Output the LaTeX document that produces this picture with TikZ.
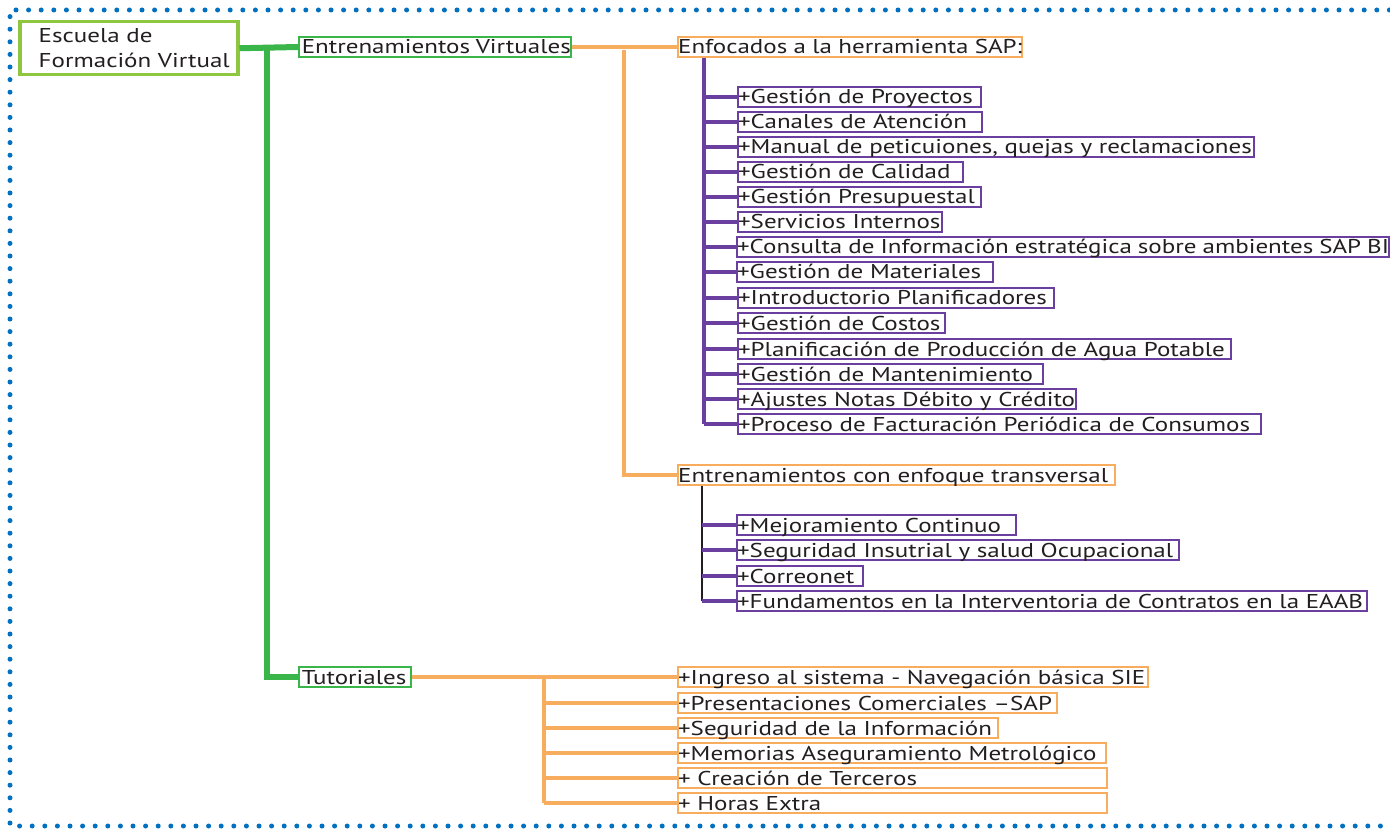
\documentclass[tikz,border=0pt]{standalone}
\usepackage{fontspec}
\setmainfont{PT Sans}[FakeStretch=1.25]
\definecolor{dotblue}{HTML}{0070C0}
\definecolor{rootgreen}{HTML}{8DC63F}
\definecolor{grn}{HTML}{39B54A}
\definecolor{orng}{HTML}{F8AD5E}
\definecolor{purp}{HTML}{6B3FA0}
\definecolor{txt}{HTML}{231F20}
\newcommand\boxtext[2]{\hbox to #1{#2\hfil}}
\begin{document}
\begin{tikzpicture}[x=1pt,y=-1pt,
  font=\fontsize{20}{23}\selectfont,
  ibox/.style={draw, inner sep=0pt, minimum height=20pt, anchor=west, text=txt,
    text height=16pt, text depth=2pt},
  pbox/.style={ibox, draw=purp, line width=2.2pt},
  obox/.style={ibox, draw=orng, line width=2.2pt},
  gbox/.style={ibox, draw=grn, line width=1.6pt},
  gline/.style={grn, line width=6pt},
  oline/.style={orng, line width=3.5pt},
  pline/.style={purp, line width=4pt},
  dline/.style={txt, line width=1.6pt}]
\useasboundingbox (0,0) rectangle (1390,829);
\fill[white] (0,0) rectangle (1390,829);
\draw[dotblue, line width=5pt, line cap=round, dash pattern=on 0pt off 12.6pt]
  (1402,10) -- (10,10) -- (10,826) -- (1402,826);
% root
\node[draw=rootgreen, line width=3.5pt, inner sep=0pt, minimum height=53pt, anchor=north west, text=txt]
  (root) at (18,20) {\hbox to 218pt{\hspace{19pt}\vbox{\baselineskip=25pt\hbox{Escuela de}\hbox{Formación Virtual}}\hss}};
% level 1
\node[gbox] (ev) at (298,47) {\boxtext{272pt}{\hspace{3pt}Entrenamientos Virtuales}};
\node[gbox] (tut) at (298,677) {\boxtext{112pt}{\hspace{3pt}Tutoriales}};
% level 2
\node[obox] (enf) at (677,47) {\boxtext{344pt}{Enfocados a la herramienta SAP:}};
\node[obox] (tra) at (677,475) {\boxtext{437pt}{Entrenamientos con enfoque transversal}};
% SAP items
\node[pbox] (p1) at (737,97) {\boxtext{243pt}{+Gestión de Proyectos}};
\node[pbox] (p2) at (737,122) {\boxtext{244pt}{+Canales de Atención}};
\node[pbox] (p3) at (737,147) {\boxtext{516pt}{+Manual de peticuiones, quejas y reclamaciones}};
\node[pbox] (p4) at (737,172) {\boxtext{225pt}{+Gestión de Calidad}};
\node[pbox] (p5) at (737,197) {\boxtext{243pt}{+Gestión Presupuestal}};
\node[pbox] (p6) at (737,222) {\boxtext{204pt}{+Servicios Internos}};
\node[pbox] (p7) at (736,247) {\boxtext{652pt}{+Consulta de Información estratégica sobre ambientes SAP BI}};
\node[pbox] (p8) at (736,272) {\boxtext{256pt}{+Gestión de Materiales}};
\node[pbox] (p9) at (737,298) {\boxtext{316pt}{+Introductorio Planificadores}};
\node[pbox] (p10) at (737,323) {\boxtext{207pt}{+Gestión de Costos}};
\node[pbox] (p11) at (737,349) {\boxtext{493pt}{+Planificación de Producción de Agua Potable}};
\node[pbox] (p12) at (737,374) {\boxtext{305pt}{+Gestión de Mantenimiento}};
\node[pbox] (p13) at (737,399) {\boxtext{338pt}{+Ajustes Notas Débito y Crédito}};
\node[pbox] (p14) at (737,424) {\boxtext{523pt}{+Proceso de Facturación Periódica de Consumos}};
% transversal items
\node[pbox] (t1) at (736,525) {\boxtext{279pt}{+Mejoramiento Continuo}};
\node[pbox] (t2) at (736,550) {\boxtext{442pt}{+Seguridad Insutrial y salud Ocupacional}};
\node[pbox] (t3) at (736,576) {\boxtext{126pt}{+Correonet}};
\node[pbox] (t4) at (736,601) {\boxtext{630pt}{+Fundamentos en la Interventoria de Contratos en la EAAB}};
% tutorial items
\node[obox] (u1) at (677,677) {\boxtext{470pt}{+Ingreso al sistema - Navegación básica SIE}};
\node[obox] (u2) at (677,703) {\boxtext{379pt}{+Presentaciones Comerciales –SAP}};
\node[obox] (u3) at (677,728) {\boxtext{320pt}{+Seguridad de la Información}};
\node[obox] (u4) at (677,753) {\boxtext{428pt}{+Memorias Aseguramiento Metrológico}};
\node[obox] (u5) at (677,778) {\boxtext{429pt}{+ Creación de Terceros}};
\node[obox] (u6) at (677,803) {\boxtext{429pt}{+ Horas Extra}};
% trunk coordinates
\coordinate (gt) at (267,0);
\coordinate (ot) at (624,0);
\coordinate (pt) at (704,0);
\coordinate (tt) at (702,0);
\coordinate (ut) at (544,0);
% green connectors
\draw[gline] (root.east) -- (ev.west);
\draw[gline] (root.east -| gt) |- (tut.west);
% orange connectors
\draw[oline] (ev.east) -- (enf.west);
\draw[oline] ([yshift=-3pt]ev.east -| ot) |- (tra.west);
% purple trunk
\draw[pline] (enf.south -| pt) -- (p14.west -| pt);
\foreach \n in {p1,p2,p3,p4,p5,p6,p7,p8,p9,p10,p11,p12,p13,p14}
  \draw[pline] (\n.west -| pt) -- (\n.west);
% transversal
\draw[dline] (tra.south -| tt) -- (t4.west -| tt);
\foreach \n in {t1,t2,t3,t4}
  \draw[pline] (\n.west -| tt) -- (\n.west);
% tutorials
\draw[oline] (tut.east) -- (u1.west);
\draw[oline] (u1.west -| ut) -- (u6.west -| ut);
\foreach \n in {u2,u3,u4,u5,u6}
  \draw[oline] (\n.west -| ut) -- (\n.west);
\end{tikzpicture}
\end{document}
